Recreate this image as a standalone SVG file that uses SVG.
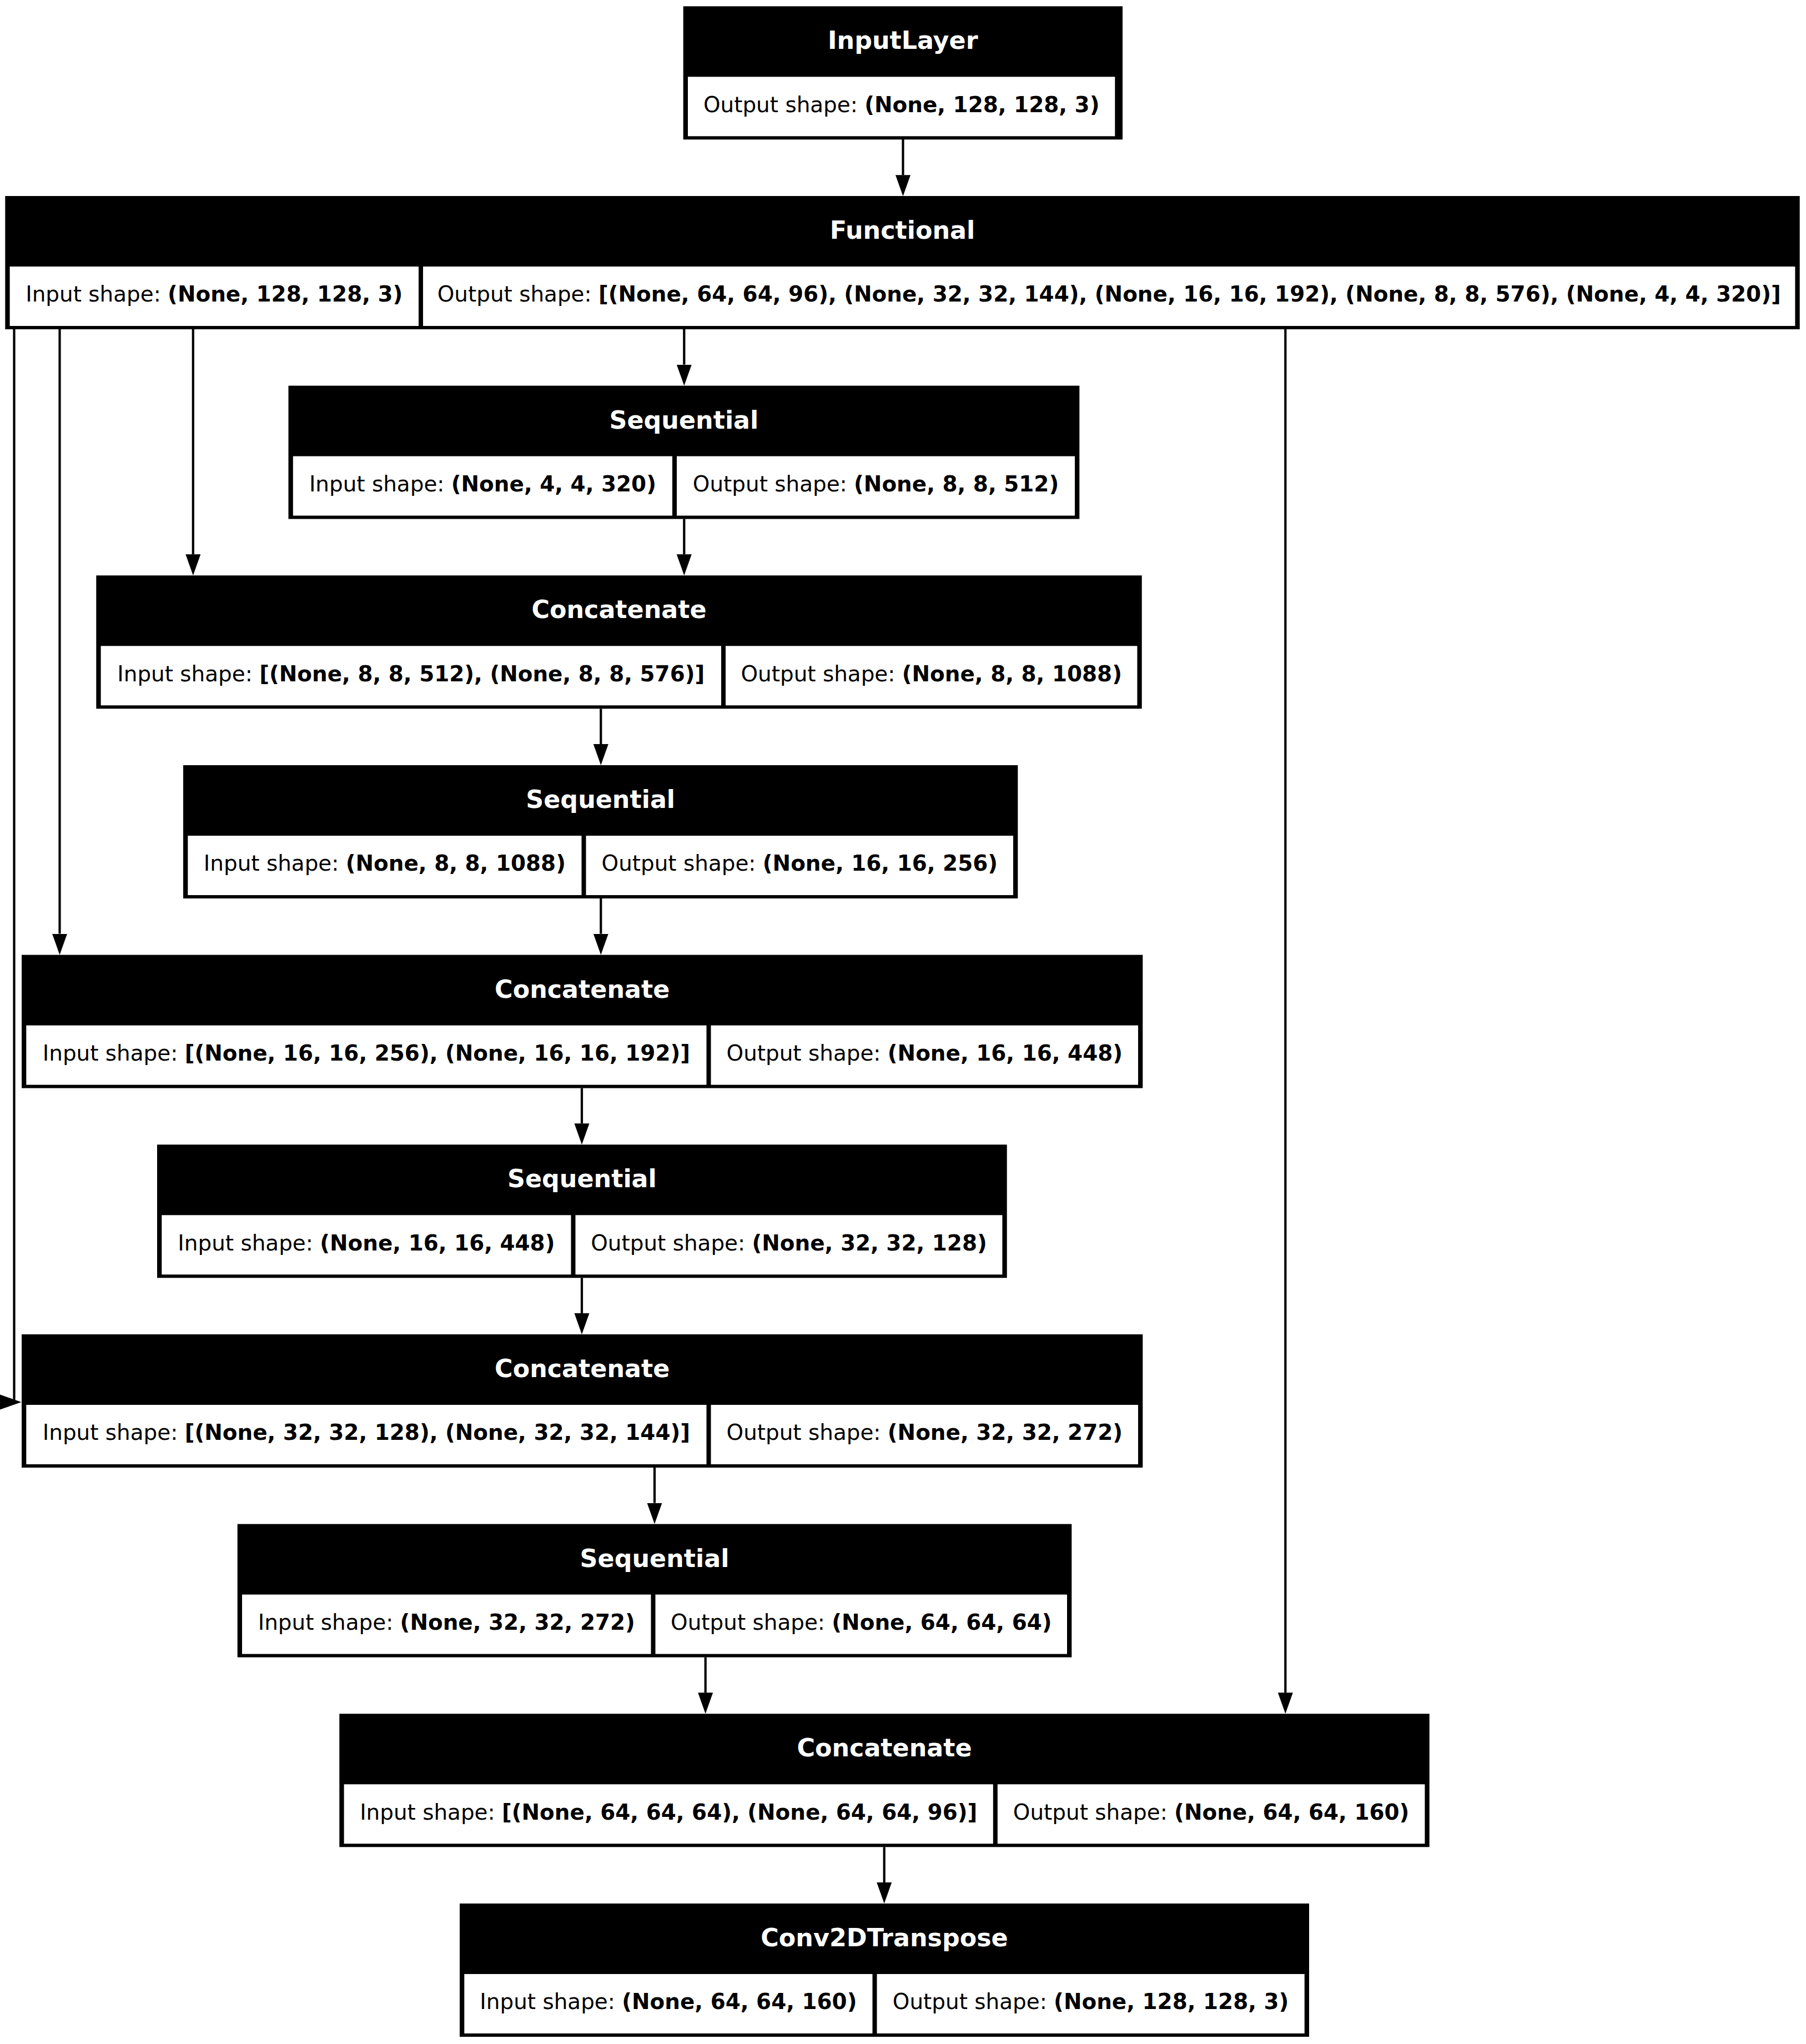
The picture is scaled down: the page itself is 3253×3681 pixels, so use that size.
<svg xmlns="http://www.w3.org/2000/svg" width="3253" height="3681" viewBox="0 0 3253 3681">
<style>
.box{fill:#000}
.cell{fill:#fff}
.hd{font-family:"DejaVu Sans",sans-serif;font-size:44.4px;font-weight:bold;fill:#fff;text-anchor:middle}
.bd{font-family:"DejaVu Sans",sans-serif;font-size:38.9px;fill:#000;text-anchor:middle}
.b{font-weight:bold}
.edge{stroke:#000;stroke-width:4.2;fill:none}
.head{fill:#000}
</style>
<defs>
<marker id="arr" markerUnits="userSpaceOnUse" markerWidth="40" markerHeight="28" refX="0" refY="13.5" orient="auto" viewBox="0 0 40 28">
<path d="M0,0 L38,13.5 L0,27 z" fill="#000"/>
</marker>
</defs>
<rect x="0" y="0" width="3253" height="3681" fill="#fff"/>

<g id="connectors">
<path class="edge" d="M1626.5,251 V315.3" marker-end="url(#arr)"/>
<path class="edge" d="M1232.3,593 V656.6" marker-end="url(#arr)"/>
<path class="edge" d="M1232.3,934.6 V998.3" marker-end="url(#arr)"/>
<path class="edge" d="M347.8,593 V998.3" marker-end="url(#arr)"/>
<path class="edge" d="M1082.3,1276.3 V1340" marker-end="url(#arr)"/>
<path class="edge" d="M1082.3,1618 V1681.6" marker-end="url(#arr)"/>
<path class="edge" d="M107.5,593 V1681.6" marker-end="url(#arr)"/>
<path class="edge" d="M1048,1959.6 V2023.3" marker-end="url(#arr)"/>
<path class="edge" d="M1048,2301.3 V2365" marker-end="url(#arr)"/>
<path class="edge" d="M25.5,593 V2522"/>
<polygon class="head" points="0,2511.5 38.5,2525 0,2538.5"/>
<path class="edge" d="M1179,2643 V2706.6" marker-end="url(#arr)"/>
<path class="edge" d="M1270.7,2984.6 V3048.3" marker-end="url(#arr)"/>
<path class="edge" d="M2315.3,593 V3048.3" marker-end="url(#arr)"/>
<path class="edge" d="M1592.7,3326.3 V3390" marker-end="url(#arr)"/>
</g>

<g id="input_layer">
<rect class="box" x="1230.7" y="11.3" width="791.3" height="240"/>
<rect class="cell" x="1239" y="138.3" width="769.3" height="107"/>
<text class="hd" x="1626.3" y="88.3">InputLayer</text>
<text class="bd" x="1623.7" y="201.6">Output shape: <tspan class="b">(None, 128, 128, 3)</tspan></text>
</g>

<g id="functional">
<rect class="box" x="9.3" y="353" width="3232.4" height="240"/>
<rect class="cell" x="17.6" y="480" width="736.4" height="107"/>
<rect class="cell" x="762" y="480" width="2471.4" height="107"/>
<text class="hd" x="1625.5" y="430">Functional</text>
<text class="bd" x="385.8" y="543.3">Input shape: <tspan class="b">(None, 128, 128, 3)</tspan></text>
<text class="bd" x="1997.7" y="543.3">Output shape: <tspan class="b">[(None, 64, 64, 96), (None, 32, 32, 144), (None, 16, 16, 192), (None, 8, 8, 576), (None, 4, 4, 320)]</tspan></text>
</g>

<g id="sequential_1">
<rect class="box" x="519.5" y="694.6" width="1424.8" height="240"/>
<rect class="cell" x="527.8" y="821.6" width="683.2" height="107"/>
<rect class="cell" x="1219" y="821.6" width="717" height="107"/>
<text class="hd" x="1231.9" y="771.6">Sequential</text>
<text class="bd" x="869.4" y="884.9">Input shape: <tspan class="b">(None, 4, 4, 320)</tspan></text>
<text class="bd" x="1577.5" y="884.9">Output shape: <tspan class="b">(None, 8, 8, 512)</tspan></text>
</g>

<g id="concatenate_1">
<rect class="box" x="173.3" y="1036.3" width="1883.4" height="240"/>
<rect class="cell" x="181.6" y="1163.3" width="1117.4" height="107"/>
<rect class="cell" x="1307" y="1163.3" width="741.4" height="107"/>
<text class="hd" x="1115" y="1113.3">Concatenate</text>
<text class="bd" x="740.3" y="1226.6">Input shape: <tspan class="b">[(None, 8, 8, 512), (None, 8, 8, 576)]</tspan></text>
<text class="bd" x="1677.7" y="1226.6">Output shape: <tspan class="b">(None, 8, 8, 1088)</tspan></text>
</g>

<g id="sequential_2">
<rect class="box" x="330" y="1378" width="1503.3" height="240"/>
<rect class="cell" x="338.3" y="1505" width="709.2" height="107"/>
<rect class="cell" x="1055.5" y="1505" width="769.5" height="107"/>
<text class="hd" x="1081.7" y="1455">Sequential</text>
<text class="bd" x="692.9" y="1568.3">Input shape: <tspan class="b">(None, 8, 8, 1088)</tspan></text>
<text class="bd" x="1440.3" y="1568.3">Output shape: <tspan class="b">(None, 16, 16, 256)</tspan></text>
</g>

<g id="concatenate_2">
<rect class="box" x="39" y="1719.6" width="2019.3" height="240"/>
<rect class="cell" x="47.3" y="1846.6" width="1225.2" height="107"/>
<rect class="cell" x="1280.5" y="1846.6" width="769.5" height="107"/>
<text class="hd" x="1048.7" y="1796.6">Concatenate</text>
<text class="bd" x="659.9" y="1909.9">Input shape: <tspan class="b">[(None, 16, 16, 256), (None, 16, 16, 192)]</tspan></text>
<text class="bd" x="1665.3" y="1909.9">Output shape: <tspan class="b">(None, 16, 16, 448)</tspan></text>
</g>

<g id="sequential_3">
<rect class="box" x="283" y="2061.3" width="1530.7" height="240"/>
<rect class="cell" x="291.3" y="2188.3" width="737.2" height="107"/>
<rect class="cell" x="1036.5" y="2188.3" width="768.9" height="107"/>
<text class="hd" x="1048.4" y="2138.3">Sequential</text>
<text class="bd" x="659.9" y="2251.6">Input shape: <tspan class="b">(None, 16, 16, 448)</tspan></text>
<text class="bd" x="1421" y="2251.6">Output shape: <tspan class="b">(None, 32, 32, 128)</tspan></text>
</g>

<g id="concatenate_3">
<rect class="box" x="39" y="2403" width="2019.3" height="240"/>
<rect class="cell" x="47.3" y="2530" width="1225.2" height="107"/>
<rect class="cell" x="1280.5" y="2530" width="769.5" height="107"/>
<text class="hd" x="1048.7" y="2480">Concatenate</text>
<text class="bd" x="659.9" y="2593.3">Input shape: <tspan class="b">[(None, 32, 32, 128), (None, 32, 32, 144)]</tspan></text>
<text class="bd" x="1665.3" y="2593.3">Output shape: <tspan class="b">(None, 32, 32, 272)</tspan></text>
</g>

<g id="sequential_4">
<rect class="box" x="427.7" y="2744.6" width="1502.6" height="240"/>
<rect class="cell" x="436" y="2871.6" width="736.5" height="107"/>
<rect class="cell" x="1180.5" y="2871.6" width="741.5" height="107"/>
<text class="hd" x="1179" y="2821.6">Sequential</text>
<text class="bd" x="804.3" y="2934.9">Input shape: <tspan class="b">(None, 32, 32, 272)</tspan></text>
<text class="bd" x="1551.3" y="2934.9">Output shape: <tspan class="b">(None, 64, 64, 64)</tspan></text>
</g>

<g id="concatenate_4">
<rect class="box" x="611.3" y="3086.3" width="1963.4" height="240"/>
<rect class="cell" x="619.6" y="3213.3" width="1169.2" height="107"/>
<rect class="cell" x="1796.8" y="3213.3" width="769.6" height="107"/>
<text class="hd" x="1593" y="3163.3">Concatenate</text>
<text class="bd" x="1204.2" y="3276.6">Input shape: <tspan class="b">[(None, 64, 64, 64), (None, 64, 64, 96)]</tspan></text>
<text class="bd" x="2181.6" y="3276.6">Output shape: <tspan class="b">(None, 64, 64, 160)</tspan></text>
</g>

<g id="conv2d_transpose">
<rect class="box" x="828" y="3428" width="1530" height="240"/>
<rect class="cell" x="836.3" y="3555" width="735.2" height="107"/>
<rect class="cell" x="1579.5" y="3555" width="770.2" height="107"/>
<text class="hd" x="1593" y="3505">Conv2DTranspose</text>
<text class="bd" x="1203.9" y="3618.3">Input shape: <tspan class="b">(None, 64, 64, 160)</tspan></text>
<text class="bd" x="1964.6" y="3618.3">Output shape: <tspan class="b">(None, 128, 128, 3)</tspan></text>
</g>
</svg>
